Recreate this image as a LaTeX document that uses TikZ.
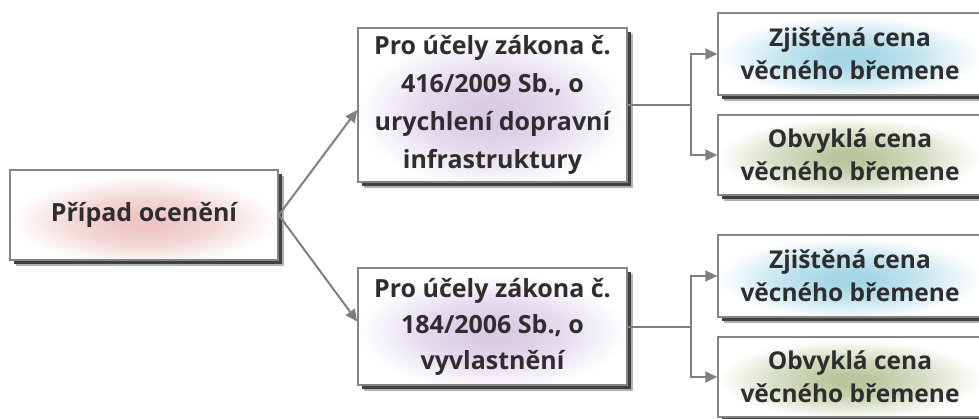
\documentclass[tikz,border=0pt]{standalone}
\usepackage{fontspec}
\setmainfont{Open Sans}
\usetikzlibrary{arrows.meta}

\definecolor{edgegray}{HTML}{858585}
\definecolor{linkgray}{HTML}{7F7F7F}
\definecolor{ink}{HTML}{2E2E2E}
\definecolor{pinkc}{HTML}{EEC6C6}
\definecolor{lavc}{HTML}{D8CCE6}
\definecolor{bluec}{HTML}{A4D6E6}
\definecolor{greenc}{HTML}{BAC79E}

% soft centre glows for the boxes (path box maps to the inner 50bp square)
\pgfdeclareradialshading{glowpink}{\pgfpoint{0bp}{-4bp}}{color(0bp)=(pinkc); color(4bp)=(pinkc); color(13bp)=(pinkc!70!white); color(25bp)=(white); color(100bp)=(white)}
\pgfdeclareradialshading{glowlav}{\pgfpoint{0bp}{-3bp}}{color(0bp)=(lavc); color(4bp)=(lavc); color(13bp)=(lavc!70!white); color(25bp)=(white); color(100bp)=(white)}
\pgfdeclareradialshading{glowblue}{\pgfpoint{0bp}{-2bp}}{color(0bp)=(bluec); color(4bp)=(bluec); color(13bp)=(bluec!65!white); color(25bp)=(white); color(100bp)=(white)}
\pgfdeclareradialshading{glowgreen}{\pgfpoint{0bp}{-2bp}}{color(0bp)=(greenc); color(4bp)=(greenc); color(13bp)=(greenc!65!white); color(25bp)=(white); color(100bp)=(white)}

\tikzset{
  box/.style={rectangle, draw=edgegray, line width=1.5pt, inner sep=0pt,
    align=center, text=ink,
    preaction={fill=black!30, transform canvas={shift={(6pt,-6pt)}}},
    preaction={fill=black!75, transform canvas={shift={(4pt,-4pt)}}}},
  link/.style={draw=linkgray, line width=2pt},
  arrow/.style={link, -{Triangle[length=12pt,width=11pt]}},
}

\begin{document}
\begin{tikzpicture}[x=1pt,y=-1pt]
  \useasboundingbox (0,0) rectangle (979,418);
  \clip (0,0) rectangle (979,418);

  % root
  \node[box, shading=glowpink, minimum width=268pt, minimum height=90pt,
        font=\bfseries\fontsize{25}{38}\selectfont] (A) at (144,215) {Případ ocenění};

  % legal bases
  \node[box, shading=glowlav, minimum width=269pt, minimum height=154pt,
        font=\bfseries\fontsize{25}{38}\selectfont] (B1) at (492.5,105)
        {Pro účely zákona č.\\416/2009 Sb., o\\urychlení dopravní\\infrastruktury};
  \node[box, shading=glowlav, minimum width=269pt, minimum height=117pt,
        font=\bfseries\fontsize{25}{36}\selectfont] (B2) at (492.5,326.5)
        {Pro účely zákona č.\\184/2006 Sb., o\\vyvlastnění};

  % prices
  \node[box, shading=glowblue, minimum width=264pt, minimum height=82pt,
        font=\bfseries\fontsize{24.5}{33}\selectfont] (C1) at (850,54)
        {Zjištěná cena\\věcného břemene};
  \node[box, shading=glowgreen, minimum width=264pt, minimum height=80pt,
        font=\bfseries\fontsize{24.5}{33}\selectfont] (C2) at (850,155)
        {Obvyklá cena\\věcného břemene};
  \node[box, shading=glowblue, minimum width=264pt, minimum height=82pt,
        font=\bfseries\fontsize{24.5}{33}\selectfont] (C3) at (850,276)
        {Zjištěná cena\\věcného břemene};
  \node[box, shading=glowgreen, minimum width=264pt, minimum height=80pt,
        font=\bfseries\fontsize{24.5}{33}\selectfont] (C4) at (850,377)
        {Obvyklá cena\\věcného břemene};

  % connectors
  \draw[arrow] (A.east) -- ([yshift=-5pt]B1.west);
  \draw[arrow] (A.east) -- ([yshift=5pt]B2.west);

  \coordinate (j1) at (691,105);
  \coordinate (j2) at (691,326.5);
  \draw[link] (B1.east) -- (j1);
  \draw[arrow] (j1) |- (C1.west);
  \draw[arrow] (j1) |- (C2.west);
  \draw[link] (B2.east) -- (j2);
  \draw[arrow] (j2) |- (C3.west);
  \draw[arrow] (j2) |- (C4.west);
\end{tikzpicture}
\end{document}
